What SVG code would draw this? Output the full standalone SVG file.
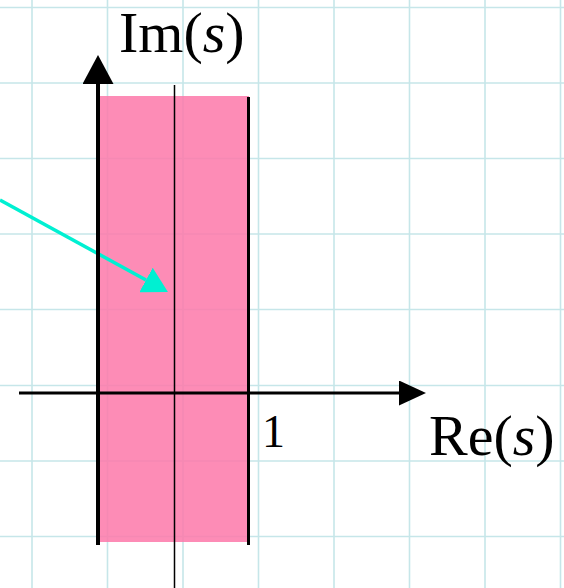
<svg xmlns="http://www.w3.org/2000/svg" width="564" height="588" viewBox="0 0 564 588">
<style>
.grid line{stroke:#c6e6e9;stroke-width:1.6}
.lbl{font-family:"Liberation Serif","Times New Roman",serif;fill:#000}
</style>
<defs>
<marker id="ahIm" markerUnits="userSpaceOnUse" viewBox="0 0 29 31" refX="0" refY="15.5" markerWidth="29" markerHeight="31" orient="auto"><path d="M0,0 L29,15.5 L0,31 z" fill="#000"/></marker>
<marker id="ahRe" markerUnits="userSpaceOnUse" viewBox="0 0 27 25" refX="0" refY="12.5" markerWidth="27" markerHeight="25" orient="auto"><path d="M0,0 L27,12.5 L0,25 z" fill="#000"/></marker>
<marker id="ahCy" markerUnits="userSpaceOnUse" viewBox="0 0 25 28" refX="0" refY="14" markerWidth="25" markerHeight="28" orient="auto"><path d="M0,0 L25,14 L0,28 z" fill="#00f0d2"/></marker>
</defs>
<rect width="564" height="588" fill="#fff"/>
<g class="grid" id="grid">
<line x1="32" y1="0" x2="32" y2="588"/>
<line x1="107.5" y1="0" x2="107.5" y2="588"/>
<line x1="183" y1="0" x2="183" y2="588"/>
<line x1="258.5" y1="0" x2="258.5" y2="588"/>
<line x1="334" y1="0" x2="334" y2="588"/>
<line x1="409.5" y1="0" x2="409.5" y2="588"/>
<line x1="485" y1="0" x2="485" y2="588"/>
<line x1="560.5" y1="0" x2="560.5" y2="588"/>
<line x1="0" y1="7.5" x2="564" y2="7.5"/>
<line x1="0" y1="83" x2="564" y2="83"/>
<line x1="0" y1="158.5" x2="564" y2="158.5"/>
<line x1="0" y1="234" x2="564" y2="234"/>
<line x1="0" y1="309.5" x2="564" y2="309.5"/>
<line x1="0" y1="385.5" x2="564" y2="385.5"/>
<line x1="0" y1="461" x2="564" y2="461"/>
<line x1="0" y1="536.5" x2="564" y2="536.5"/>
</g>
<g id="region">
<rect x="98" y="96" width="151" height="446" fill="#fd78a9" opacity="0.85"/>
</g>
<g id="connectors">
<line x1="0" y1="200" x2="146" y2="280" stroke="#00f0d2" stroke-width="3.5" marker-end="url(#ahCy)"/>
<line x1="98" y1="545" x2="98" y2="84" stroke="#000" stroke-width="4" marker-end="url(#ahIm)"/>
<line x1="19" y1="393" x2="399" y2="393" stroke="#000" stroke-width="3" marker-end="url(#ahRe)"/>
<line x1="248.5" y1="97" x2="248.5" y2="545" stroke="#000" stroke-width="3"/>
<line x1="174.5" y1="85" x2="174.5" y2="588" stroke="#000" stroke-width="1.5"/>
</g>
<g id="labels">
<text class="lbl" x="119" y="52" font-size="58">Im(<tspan font-style="italic">s</tspan>)</text>
<text class="lbl" x="429" y="455" font-size="58">Re(<tspan font-style="italic">s</tspan>)</text>
<text class="lbl" x="262" y="447" font-size="46">1</text>
</g>
</svg>
